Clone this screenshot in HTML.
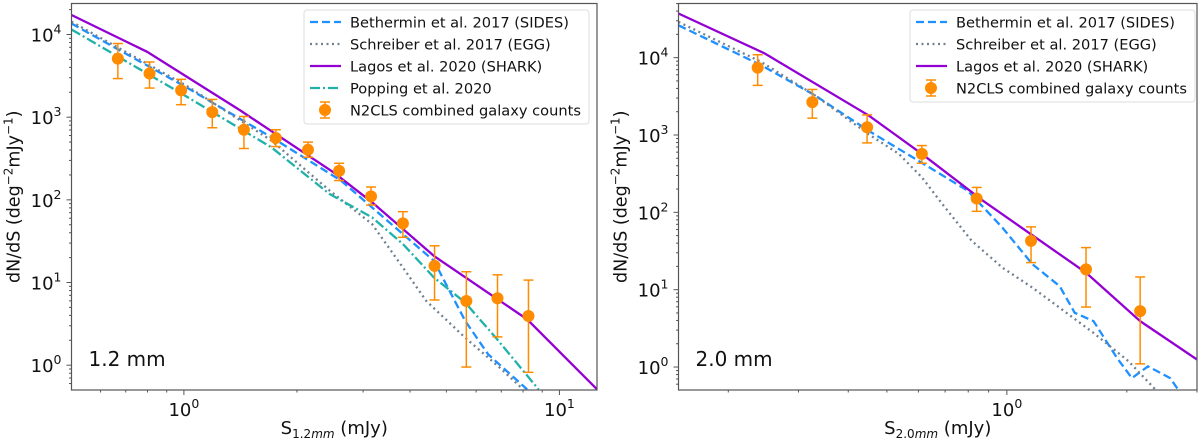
<!DOCTYPE html>
<html><head><meta charset="utf-8"><style>
body{margin:0;background:#fff;}
svg{display:block;font-family:"DejaVu Sans","Liberation Sans",sans-serif;}
</style></head><body>
<svg id="chart" width="1200" height="441" viewBox="0 0 1200 441"></svg>
<script>
// ---- Left panel data (1.2 mm) ----
const leftObsS = [0.667,0.81,0.983,1.19,1.445,1.757,2.14,2.59,3.15,3.83,4.65,5.65,6.84,8.27];
const leftObsN = [5100,3370,2110,1150,705,559,403,224,110,51.9,15.9,5.98,6.45,3.94];
const leftObsHi = [7780,4650,2870,1640,1020,705,499,277,143,71.9,27.8,13.5,12.4,10.7];
const leftObsLo = [2930,2250,1415,745,418,441,328,171,86.6,35.2,6.15,0.95,2.2,0.82];
const leftSharkS = [0.502,0.798,1.412,2.5,3.17,4.63,8.2,12.6];
const leftSharkN = [17200,6170,1208,216,93.3,21.0,3.59,0.51];
const leftSidesS = [0.502,1.012,1.708,2.62,3.83,4.63,5.10,5.61,6.46,8.2];
const leftSidesN = [13600,2320,574,171,38.5,18.3,7.9,3.43,1.35,0.51];
const leftEggS = [0.502,1.012,1.708,2.44,3.17,3.83,4.42,5.61,6.94,8.0];
const leftEggN = [14300,2430,523,130,50.9,15.2,5.98,2.15,0.93,0.51];
const leftPopS = [0.502,0.988,1.708,2.44,3.17,3.83,4.63,5.61,6.77,8.8];
const leftPopN = [11500,1920,433,118,61.4,29.2,11.5,5.71,2.15,0.51];
// ---- Right panel data (2.0 mm) ----
const rightObsS = [0.237,0.325,0.446,0.612,0.84,1.15,1.58,2.16];
const rightObsN = [7420,2660,1260,569,151,42.8,18.3,5.28];
const rightObsHi = [10900,3880,1820,730,210,64.9,35.0,14.6];
const rightObsLo = [4380,1650,790,431,103,22.4,5.96,1.10];
const rightSharkS = [0.15,0.247,0.45,0.612,0.872,1.58,2.16,3.0];
const rightSharkN = [37200,11300,1790,569,141,16.6,3.92,1.25];
const rightSidesS = [0.15,0.242,0.330,0.449,0.599,0.798,0.974,1.16,1.357,1.48,1.65,1.89,2.06,2.26,2.57,2.69];
const rightSidesN = [26200,7960,3250,1140,466,190,63.6,21.3,11.1,5.03,3.92,1.31,0.72,1.02,0.72,0.51];
const rightEggS = [0.15,0.242,0.330,0.449,0.536,0.612,0.699,0.816,0.974,1.16,1.357,1.65,2.02,2.36];
const rightEggN = [29000,8790,3250,1030,569,283,116,42.8,19.3,10.6,5.83,2.76,1.19,0.51];
const yTickExps = [0,1,2,3,4];

const NS="http://www.w3.org/2000/svg";
const svg=document.getElementById('chart');
function mk(tag,attrs,parent){const e=document.createElementNS(NS,tag);for(const k in attrs)e.setAttribute(k,attrs[k]);(parent||svg).appendChild(e);return e;}

function panel(cfg){
  const g=mk('g',{});
  
  
  const X=v=>cfg.x0+(Math.log10(v)-cfg.lx0)/(cfg.lx1-cfg.lx0)*(cfg.x1-cfg.x0);
  const Y=v=>cfg.y1-(Math.log10(v)-cfg.ly0)/(cfg.ly1-cfg.ly0)*(cfg.y1-cfg.y0);
  const defs=mk('defs',{},g);
  const cp=mk('clipPath',{id:cfg.name+'-clip'},defs);
  mk('rect',{x:cfg.x0,y:cfg.y0,width:cfg.x1-cfg.x0,height:cfg.y1-cfg.y0},cp);
  const plot=mk('g',{'clip-path':'url(#'+cfg.name+'-clip)'},g);
  function line(xs,ys,color,dash,name){
    const p=mk('path',{d:xs.map((s,i)=>(i?'L':'M')+X(s).toFixed(1)+','+Y(ys[i]).toFixed(1)).join(''),fill:'none',stroke:color,'stroke-width':2.3,'stroke-dasharray':dash},plot);
    
    
  }
  cfg.lines.forEach(l=>line(l.s,l.n,l.color,l.dash,l.name));
  cfg.obsS.forEach((s,i)=>{
    const og=mk('g',{},plot);
    
    
    const x=X(s);
    mk('line',{x1:x,x2:x,y1:Y(cfg.obsHi[i]),y2:Y(cfg.obsLo[i]),stroke:'#ff8c00','stroke-width':1.5},og);
    mk('line',{x1:x-5,x2:x+5,y1:Y(cfg.obsHi[i]),y2:Y(cfg.obsHi[i]),stroke:'#ff8c00','stroke-width':1.5},og);
    mk('line',{x1:x-5,x2:x+5,y1:Y(cfg.obsLo[i]),y2:Y(cfg.obsLo[i]),stroke:'#ff8c00','stroke-width':1.5},og);
    mk('circle',{cx:x,cy:Y(cfg.obsN[i]),r:6,fill:'#ff8c00'},og);
  });
  const fr=mk('rect',{x:cfg.x0,y:cfg.y0,width:cfg.x1-cfg.x0,height:cfg.y1-cfg.y0,fill:'none',stroke:'#555','stroke-width':1.2},g);
  
  
  for(let e=-1;e<=5;e++){for(let m=1;m<10;m++){const v=m*Math.pow(10,e);const lv=Math.log10(v);if(lv<cfg.ly0||lv>cfg.ly1)continue;const y=Y(v);mk('line',{x1:cfg.x0-(m==1?5:2.5),x2:cfg.x0,y1:y,y2:y,stroke:'#555','stroke-width':1},g);}}
  yTickExps.forEach(e=>{
    const t=mk('text',{x:cfg.x0-10,y:Y(Math.pow(10,e))+7,'text-anchor':'end','font-size':18,fill:'#111'},g);
    
    
    t.innerHTML='10<tspan dy="-8" font-size="12.5">'+e+'</tspan>';
  });
  for(let e=-2;e<=2;e++){for(let m=1;m<10;m++){const v=m*Math.pow(10,e);const lv=Math.log10(v);if(lv<cfg.lx0||lv>cfg.lx1)continue;const x=X(v);mk('line',{x1:x,x2:x,y1:cfg.y1,y2:cfg.y1+(m==1?5:2.5),stroke:'#555','stroke-width':1},g);
    if(m==1){const t=mk('text',{x:x,y:cfg.y1+26,'text-anchor':'middle','font-size':18,fill:'#111'},g);
      
      
      t.innerHTML='10<tspan dy="-8" font-size="12.5">'+e+'</tspan>';}}}
  const xl=mk('text',{x:(cfg.x0+cfg.x1)/2,y:434,'text-anchor':'middle','font-size':18,fill:'#111'},g);
  
  
  xl.innerHTML='S<tspan font-size="12" dy="4">'+cfg.band+'</tspan><tspan font-size="12" font-style="italic">mm</tspan><tspan dy="-4"> (mJy)</tspan>';
  const yl=mk('text',{transform:'translate('+(cfg.x0-52)+','+((cfg.y0+cfg.y1)/2)+') rotate(-90)','text-anchor':'middle','font-size':17.5,fill:'#111'},g);
  
  
  yl.innerHTML='dN/dS (deg<tspan dy="-7" font-size="12">−2</tspan><tspan dy="7">mJy</tspan><tspan dy="-7" font-size="12">−1</tspan><tspan dy="7">)</tspan>';
  const bl=mk('text',{x:cfg.x0+17,y:366,'font-size':20,fill:'#111'},g);
  
  
  bl.textContent=cfg.band+' mm';
  const lg=mk('g',{},g);
  
  
  const n=cfg.lines.length+1;
  mk('rect',{x:cfg.lgx,y:10,width:cfg.lgw,height:4+n*22,rx:3,fill:'#fff','fill-opacity':0.85,stroke:'#ddd'},lg);
  const items=cfg.lines.map(l=>({t:l.label,c:l.color,d:l.dash}));
  items.push({t:'N2CLS combined galaxy counts',obs:true});
  items.forEach((it,i)=>{
    const y=22+i*22;const ig=mk('g',{},lg);
    
    
    const lx=cfg.lgx+6;
    if(it.obs){const cx=lx+15;mk('line',{x1:cx,x2:cx,y1:y-8,y2:y+8,stroke:'#ff8c00','stroke-width':1.5},ig);mk('line',{x1:cx-5,x2:cx+5,y1:y-8,y2:y-8,stroke:'#ff8c00','stroke-width':1.5},ig);mk('line',{x1:cx-5,x2:cx+5,y1:y+8,y2:y+8,stroke:'#ff8c00','stroke-width':1.5},ig);mk('circle',{cx:cx,cy:y,r:6,fill:'#ff8c00'},ig);}
    else mk('line',{x1:lx,x2:lx+31,y1:y,y2:y,stroke:it.c,'stroke-width':2.3,'stroke-dasharray':it.d},ig);
    const t=mk('text',{x:lx+40,y:y+5.5,'font-size':14.6,fill:'#111'},ig);t.textContent=it.t;
  });
}
const cSides={color:'#1e90ff',dash:'8,4',label:'Bethermin et al. 2017 (SIDES)'};
const cEgg={color:'#708090',dash:'2,3.5',label:'Schreiber et al. 2017 (EGG)'};
const cShark={color:'#9400d3',dash:'none',label:'Lagos et al. 2020 (SHARK)'};
const cPop={color:'#20b2aa',dash:'10,3,2,3',label:'Popping et al. 2020'};
panel({name:'panel-1p2mm',band:'1.2',x0:71.5,x1:597,y0:3.5,y1:390,lx0:Math.log10(0.502),lx1:1.1,ly0:-0.3,ly1:4.375,
  lgx:304,lgw:285,obsS:leftObsS,obsN:leftObsN,obsHi:leftObsHi,obsLo:leftObsLo,
  lines:[Object.assign({s:leftSidesS,n:leftSidesN,name:'sides-line'},cSides),Object.assign({s:leftEggS,n:leftEggN,name:'egg-line'},cEgg),Object.assign({s:leftSharkS,n:leftSharkN,name:'shark-line'},cShark),Object.assign({s:leftPopS,n:leftPopN,name:'popping-line'},cPop)]});
panel({name:'panel-2p0mm',band:'2.0',x0:678.5,x1:1197,y0:3.5,y1:390,lx0:Math.log10(0.15),lx1:Math.log10(3.0),ly0:-0.297,ly1:4.70,
  lgx:910,lgw:285,obsS:rightObsS,obsN:rightObsN,obsHi:rightObsHi,obsLo:rightObsLo,
  lines:[Object.assign({s:rightSidesS,n:rightSidesN,name:'sides-line'},cSides),Object.assign({s:rightEggS,n:rightEggN,name:'egg-line'},cEgg),Object.assign({s:rightSharkS,n:rightSharkN,name:'shark-line'},cShark)]});
</script>
</body></html>
